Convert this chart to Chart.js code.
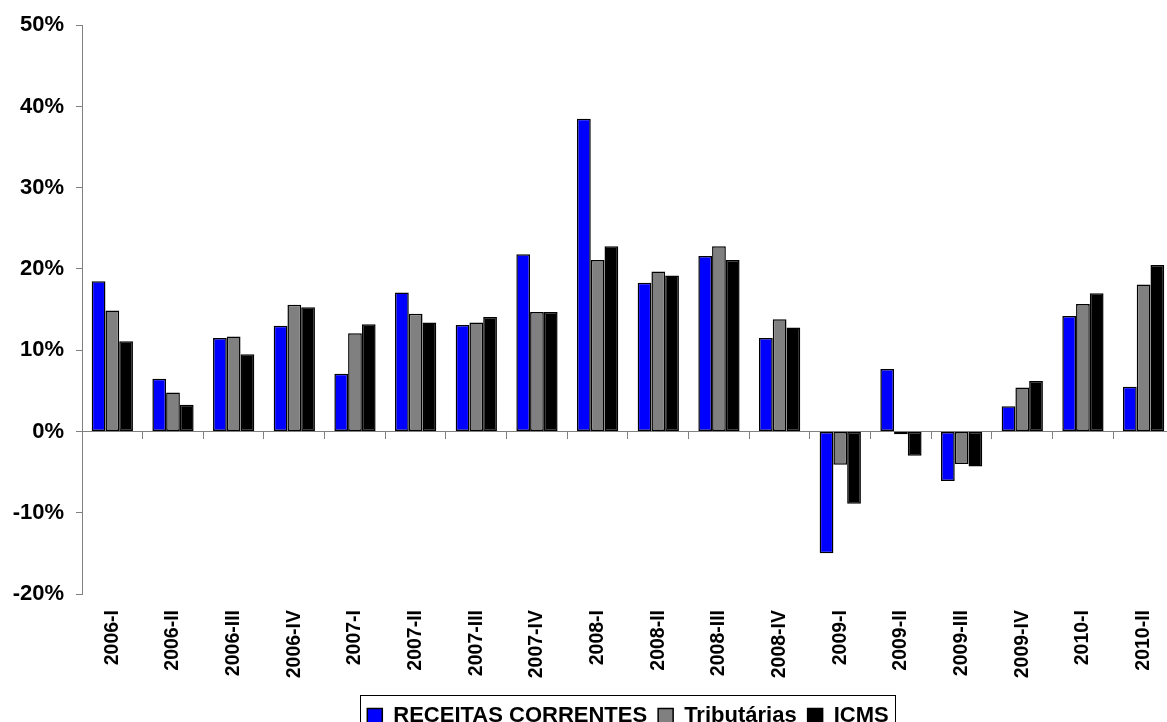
<!DOCTYPE html>
<html>
<head>
<meta charset="utf-8">
<script src="https://cdn.jsdelivr.net/npm/chart.js@4/dist/chart.umd.min.js"></script>
<style>
  html, body { margin: 0; padding: 0; background: #fff; overflow: hidden; }
  #grafico { display: block; }
</style>
</head>
<body>
<canvas id="grafico" width="1175" height="737"></canvas>
<script>
// trimestres
var trimestres = [
  "2006-I", "2006-II", "2006-III", "2006-IV",
  "2007-I", "2007-II", "2007-III", "2007-IV",
  "2008-I", "2008-II", "2008-III", "2008-IV",
  "2009-I", "2009-II", "2009-III", "2009-IV",
  "2010-I", "2010-II",
];

// variacao (%) de cada serie
var receitasCorrentes = [
  18.5, 6.5, 11.5, 13.0, 7.1, 17.1, 13.1, 21.8, 38.5,
  18.3, 21.6, 11.5, -15.0, 7.7, -6.1, 3.1, 14.2, 5.5,
];
var tributarias = [
  14.9, 4.8, 11.7, 15.6, 12.1, 14.5, 13.4, 14.7, 21.1,
  19.7, 22.8, 13.8, -4.1, -0.35, -4.0, 5.4, 15.7, 18.1,
];
var icms = [
  11.1, 3.3, 9.5, 15.3, 13.2, 13.4, 14.1, 14.7, 22.8,
  19.2, 21.1, 12.8, -8.9, -3.0, -4.3, 6.2, 17.0, 20.5,
];

// eixo y
var yMin = -20;
var yMax = 50;
var yPasso = 10;

Chart.defaults.font.family = "'Liberation Sans', Arial, sans-serif";
Chart.defaults.color = "#000";

// moldura da legenda
const molduraLegenda = {
  id: "molduraLegenda",
  afterDraw(chart) {
    const legenda = chart.legend;
    if (!legenda || !legenda.legendHitBoxes.length) return;
    const caixas = legenda.legendHitBoxes;
    var esq = caixas[0].left - 7;
    var dir = caixas[caixas.length - 1].left + caixas[caixas.length - 1].width + 7;
    var topo = caixas[0].top - 10;
    var alt = caixas[0].height + 20;
    const ctx = chart.ctx;
    ctx.save();
    ctx.strokeStyle = "#000";
    ctx.lineWidth = 1;
    ctx.strokeRect(Math.round(esq) + 0.5, Math.round(topo) + 0.5, Math.round(dir - esq), Math.round(alt));
    ctx.restore();
  },
};

function dataset(rotulo, valores, cor) {
  return {
    label: rotulo,
    data: valores,
    backgroundColor: cor,
    borderColor: "#000",
    borderWidth: 1.5,
    borderSkipped: false,
    xAxisID: "x",
    yAxisID: "y",
  };
}

const ctx = document.getElementById("grafico");

window.graficoReceitas = new Chart(ctx, {
  type: "bar",
  data: {
    labels: trimestres,
    datasets: [
      dataset("RECEITAS CORRENTES", receitasCorrentes, "#0000FF"),
      dataset("Tributárias", tributarias, "#808080"),
      dataset("ICMS", icms, "#000000"),
    ],
  },
  options: {
    responsive: false,
    animation: false,
    layout: { padding: { top: 25, left: 0, right: 0, bottom: 0 } },
    datasets: {
      bar: { categoryPercentage: 0.68, barPercentage: 1.0 },
    },
    plugins: {
      tooltip: { enabled: false },
      legend: {
        position: "bottom",
        fullSize: false,
        labels: {
          boxWidth: 15,
          boxHeight: 15,
          padding: 11,
          color: "#000",
          font: { size: 22, weight: "bold" },
        },
      },
    },
    scales: {
      y: {
        min: yMin,
        max: yMax,
        position: "left",
        ticks: {
          stepSize: yPasso,
          padding: 12,
          font: { size: 22, weight: "bold" },
          callback: function (v) { return v + "%"; },
        },
        grid: {
          display: true,
          drawOnChartArea: false,
          drawTicks: true,
          tickLength: 6,
          color: "#808080",
        },
        border: { display: true, color: "#808080", width: 1 },
        afterFit: function (escala) { escala.width = 82; },
      },
      x: {
        type: "category",
        position: { y: 0 },
        offset: true,
        ticks: { display: false },
        grid: {
          display: true,
          offset: true,
          drawOnChartArea: false,
          drawTicks: true,
          tickLength: 7,
          color: "#808080",
        },
        border: { display: true, color: "#808080", width: 1 },
      },
      xRotulos: {
        type: "category",
        position: "bottom",
        offset: true,
        ticks: {
          autoSkip: false,
          minRotation: 90,
          maxRotation: 90,
          padding: 8,
          font: { size: 19.5, weight: "bold" },
        },
        grid: { display: false },
        border: { display: false },
        afterFit: function (escala) { escala.height = 100; },
      },
    },
  },
  plugins: [molduraLegenda],
});
</script>
</body>
</html>
